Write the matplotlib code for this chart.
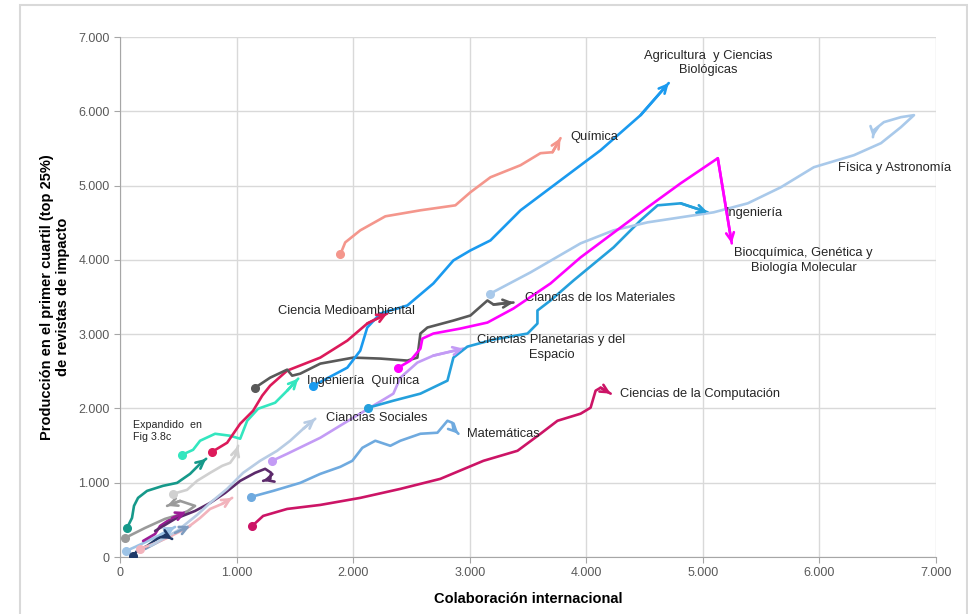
import matplotlib
matplotlib.use("Agg")
import matplotlib.pyplot as plt
from matplotlib.patches import Rectangle
from matplotlib.ticker import FuncFormatter

# trayectorias por área (x = colaboración internacional, y = producción Q1)
agri_x = [1658, 1950, 2061, 2121, 2233, 2465, 2688, 2860, 3006, 3178, 3436, 3779, 4123, 4466, 4707]
agri_y = [2306, 2549, 2778, 3089, 3278, 3386, 3682, 3992, 4127, 4262, 4667, 5071, 5476, 5948, 6380]

quim_x = [1890, 1932, 2061, 2276, 2577, 2877, 3006, 3178, 3436, 3607, 3710, 3779]
quim_y = [4073, 4235, 4397, 4586, 4667, 4734, 4910, 5112, 5274, 5436, 5449, 5638]

fis_x = [3178, 3521, 3951, 4234, 4526, 5093, 5385, 5669, 5952, 6296, 6528, 6699, 6811, 6699, 6553, 6467, 6459]
fis_y = [3547, 3831, 4222, 4397, 4505, 4640, 4761, 4977, 5247, 5409, 5571, 5786, 5948, 5921, 5854, 5746, 5651]

bioq_x = [2388, 2491, 2577, 2594, 2688, 2920, 3152, 3375, 3693, 3951, 4526, 4810, 5128, 5248]
bioq_y = [2549, 2644, 2805, 2940, 3008, 3075, 3156, 3345, 3682, 4033, 4707, 5031, 5368, 4222]

ing_x = [2130, 2345, 2577, 2809, 2860, 2980, 3204, 3496, 3581, 3581, 3693, 3891, 4234, 4466, 4612, 4810, 5042]
ing_y = [2010, 2104, 2199, 2374, 2684, 2832, 2927, 3008, 3143, 3318, 3453, 3723, 4168, 4532, 4734, 4761, 4640]

mat_x = [1160, 1288, 1434, 1477, 1546, 1718, 2001, 2233, 2465, 2551, 2577, 2637, 2860, 3006, 3152, 3204, 3375]
mat_y = [2280, 2414, 2522, 2441, 2468, 2603, 2684, 2671, 2644, 2684, 3008, 3089, 3183, 3251, 3453, 3399, 3426]

medio_x = [790, 919, 1031, 1142, 1220, 1288, 1434, 1718, 1950, 2121, 2293]
medio_y = [1416, 1538, 1794, 1969, 2172, 2306, 2509, 2684, 2913, 3143, 3278]

ingq_x = [533, 627, 687, 816, 945, 1031, 1091, 1185, 1331, 1434, 1529]
ingq_y = [1376, 1443, 1565, 1659, 1632, 1592, 1834, 1996, 2077, 2239, 2401]

plan_x = [1305, 1434, 1718, 2001, 2345, 2405, 2551, 2688, 2946]
plan_y = [1295, 1389, 1605, 1875, 2199, 2414, 2617, 2711, 2806]

comp_x = [1134, 1228, 1434, 1718, 2061, 2405, 2748, 3118, 3410, 3607, 3753, 3951, 4037, 4080, 4123, 4209]
comp_y = [418, 553, 647, 701, 796, 917, 1052, 1295, 1430, 1659, 1834, 1929, 2010, 2239, 2279, 2199]

soc_x = [258, 490, 661, 773, 919, 1056, 1202, 1348, 1460, 1572, 1675]
soc_y = [148, 351, 566, 728, 917, 1133, 1295, 1430, 1565, 1726, 1861]

mate_x = [1125, 1314, 1546, 1718, 1890, 1993, 2079, 2190, 2319, 2405, 2577, 2723, 2809, 2851, 2860, 2903]
mate_y = [809, 890, 998, 1119, 1214, 1295, 1470, 1565, 1497, 1565, 1659, 1673, 1834, 1807, 1726, 1659]

# áreas pequeñas (zona ampliada en Fig 3.8c)
teal_x = [60, 103, 120, 155, 232, 369, 490, 601, 687, 739]
teal_y = [391, 526, 688, 796, 890, 958, 998, 1119, 1254, 1322]

lgray_x = [455, 575, 661, 773, 876, 945, 988, 1013]
lgray_y = [850, 904, 1025, 1133, 1227, 1268, 1362, 1497]

gray_x = [43, 215, 386, 558, 644, 515, 404]
gray_y = [256, 391, 513, 593, 688, 755, 688]

purp_x = [301, 472, 644, 773, 902, 1031, 1159, 1245, 1297, 1288, 1228]
purp_y = [351, 513, 620, 728, 863, 1025, 1133, 1187, 1133, 1052, 1025]

pink_x = [172, 283, 404, 575, 687, 773, 876, 962]
pink_y = [108, 175, 256, 391, 526, 647, 715, 796]

navy_x = [112, 146, 232, 318, 386, 447]
navy_y = [13, 81, 148, 243, 297, 243]

lblue_x = [52, 129, 240, 344, 472]
lblue_y = [81, 135, 216, 297, 405]

dmag_x = [198, 301, 344, 447, 567]
dmag_y = [216, 310, 418, 526, 607]

bgray_x = [215, 344, 472, 601]
bgray_y = [108, 216, 324, 418]

ticks = [0, 1000, 2000, 3000, 4000, 5000, 6000, 7000]


def trayectoria(ax, x, y, color, dot=True, lw=1.9):
    ax.plot(x, y, color=color, lw=lw, solid_capstyle='round', solid_joinstyle='round', zorder=3)
    if dot:
        ax.plot(x[0], y[0], 'o', color=color, ms=5.5, zorder=4)
    ax.annotate('', xy=(x[-1], y[-1]), xytext=(x[-2], y[-2]),
                arrowprops=dict(arrowstyle='->', color=color, lw=lw, mutation_scale=14,
                                shrinkA=0, shrinkB=0), zorder=4)


def main():
    plt.rcParams['font.family'] = ['Liberation Sans', 'DejaVu Sans']
    fig = plt.figure(figsize=(9.68, 6.14), dpi=100)
    fig.patches.append(Rectangle((20 / 968, -0.05), 947 / 968, 1.05 - 5 / 614, transform=fig.transFigure,
                                 fill=False, edgecolor='#D9D9D9', lw=1.5))
    ax = fig.add_axes([120 / 968, 57 / 614, 816 / 968, 520 / 614])

    # áreas pequeñas primero
    trayectoria(ax, bgray_x, bgray_y, '#7E9CC0', dot=False)
    trayectoria(ax, lblue_x, lblue_y, '#9DC3E6')
    trayectoria(ax, navy_x, navy_y, '#1F3A68')
    trayectoria(ax, pink_x, pink_y, '#F2B3BC')
    trayectoria(ax, dmag_x, dmag_y, '#9C1C96', dot=False)
    trayectoria(ax, gray_x, gray_y, '#9A9A9A')
    trayectoria(ax, lgray_x, lgray_y, '#D0D0D0')
    trayectoria(ax, purp_x, purp_y, '#5C2A6B', dot=False)
    trayectoria(ax, teal_x, teal_y, '#16998A')

    trayectoria(ax, soc_x, soc_y, '#B8CCE4', dot=False)
    trayectoria(ax, mate_x, mate_y, '#6FAADF')
    trayectoria(ax, comp_x, comp_y, '#CC1466')
    trayectoria(ax, plan_x, plan_y, '#C39BF5')
    trayectoria(ax, ingq_x, ingq_y, '#33E6BF')
    trayectoria(ax, medio_x, medio_y, '#DC1A5A')
    trayectoria(ax, mat_x, mat_y, '#595959')
    trayectoria(ax, ing_x, ing_y, '#25A0DC')
    trayectoria(ax, fis_x, fis_y, '#A9C9EA')
    trayectoria(ax, bioq_x, bioq_y, '#FF00FF')
    trayectoria(ax, quim_x, quim_y, '#F4968C')
    trayectoria(ax, agri_x, agri_y, '#1A9AEF')

    fs = 9.3
    tc = '#262626'
    kw = dict(fontsize=fs, color=tc, va='center', linespacing=1.25)
    ax.text(5050, 6653, 'Agricultura  y Ciencias\nBiológicas', ha='center', **kw)
    ax.text(3865, 5651, 'Química', ha='left', **kw)
    ax.text(6158, 5233, 'Física y Astronomía', ha='left', **kw)
    ax.text(5196, 4626, 'Ingeniería', ha='left', **kw)
    ax.text(5866, 3992, 'Biocquímica, Genética y\nBiología Molecular', ha='center', **kw)
    ax.text(3478, 3480, 'Ciancias de los Materiales', ha='left', **kw)
    ax.text(1357, 3318, 'Ciencia Medioambiental', ha='left', **kw)
    ax.text(3702, 2819, 'Ciencias Planetarias y del\nEspacio', ha='center', **kw)
    ax.text(1606, 2374, 'Ingeniería  Química', ha='left', **kw)
    ax.text(1769, 1875, 'Ciancias Sociales', ha='left', **kw)
    ax.text(2980, 1659, 'Matemáticas', ha='left', **kw)
    ax.text(4286, 2199, 'Ciencias de la Computación', ha='left', **kw)
    ax.text(112, 1700, 'Expandido  en\nFig 3.8c', ha='left', va='center', fontsize=7.7, color=tc,
            linespacing=1.3)

    ax.set_xlim(0, 7000)
    ax.set_ylim(0, 7000)
    ax.set_xticks(ticks)
    ax.set_yticks(ticks)
    fmt = FuncFormatter(lambda v, p: '{:,.0f}'.format(v).replace(',', '.'))
    ax.xaxis.set_major_formatter(fmt)
    ax.yaxis.set_major_formatter(fmt)
    ax.tick_params(labelsize=9, colors='#595959', length=4, color='#A6A6A6')
    ax.grid(True, color='#D9D9D9', lw=1)
    ax.set_axisbelow(True)
    for s in ['top', 'right']:
        ax.spines[s].set_visible(False)
    for s in ['left', 'bottom']:
        ax.spines[s].set_color('#A6A6A6')

    ax.set_xlabel('Colaboración internacional', fontsize=10.5, fontweight='bold', labelpad=9)
    ax.set_ylabel('Producción en el primer cuartil (top 25%)\nde revistas de impacto', fontsize=10.5,
                  fontweight='bold', labelpad=6)

    fig.savefig('out.png', dpi=100)


if __name__ == '__main__':
    main()
